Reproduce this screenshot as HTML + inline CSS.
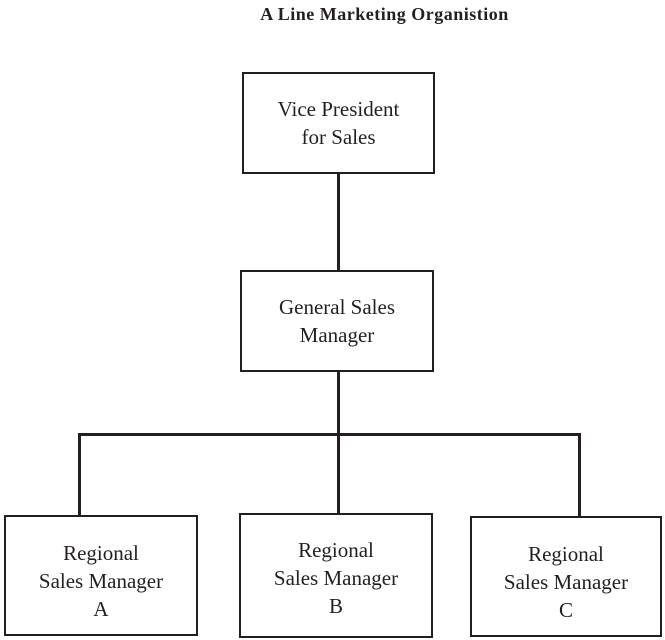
<!DOCTYPE html>
<html><head><style>
body{margin:0;background:#fff;}
.b{position:absolute;border:2.5px solid #231f20;box-sizing:border-box;display:flex;align-items:center;justify-content:center;text-align:center;font-family:"Liberation Serif",serif;font-size:21px;line-height:28px;color:#231f20;}
.l{position:absolute;background:#231f20;}
</style></head><body>
<div style="position:relative;width:665px;height:640px;overflow:hidden">
<div style="position:absolute;left:52px;width:665px;top:4px;text-align:center;font-family:'Liberation Serif',serif;font-weight:bold;font-size:18px;letter-spacing:0.5px;color:#231f20;white-space:nowrap;">A Line Marketing Organistion</div>
<div class="b" style="left:242px;top:72px;width:193px;height:102px">Vice President<br>for Sales</div>
<div class="l" style="left:337px;top:173px;width:2.5px;height:98px"></div>
<div class="b" style="left:240px;top:270px;width:194px;height:102px">General Sales<br>Manager</div>
<div class="l" style="left:337px;top:371px;width:2.5px;height:143px"></div>
<div class="l" style="left:78px;top:433px;width:503px;height:2.5px"></div>
<div class="l" style="left:78px;top:433px;width:2.5px;height:83px"></div>
<div class="l" style="left:578px;top:433px;width:2.5px;height:84px"></div>
<div class="b" style="left:4px;top:515px;width:194px;height:121px;padding-top:10px">Regional<br>Sales Manager<br>A</div>
<div class="b" style="left:239px;top:513px;width:194px;height:125px;padding-top:4px">Regional<br>Sales Manager<br>B</div>
<div class="b" style="left:470px;top:516px;width:192px;height:121px;padding-top:10px">Regional<br>Sales Manager<br>C</div>
</div>
</body></html>
